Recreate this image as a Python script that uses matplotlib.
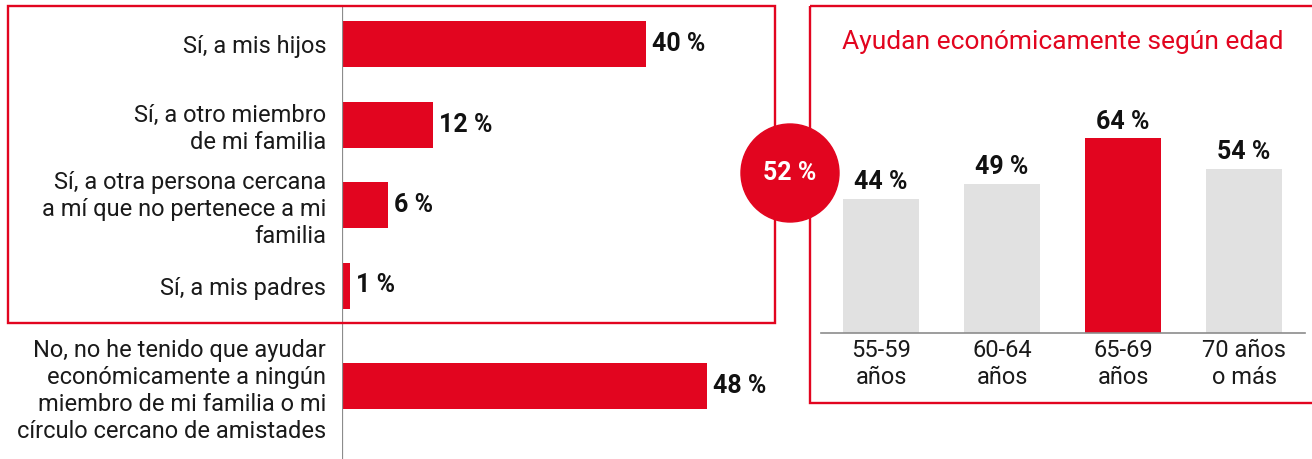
import matplotlib
matplotlib.use("Agg")
import matplotlib.pyplot as plt
from matplotlib.patches import Circle, Rectangle
import numpy as np

# Figure size in pixels (dpi 100)
W, H = 1312, 459

RED = "#E2051F"
GREY_BAR = "#E1E1E1"
AXIS_GREY = "#8C8C8C"

# Left panel: who they have helped financially
HELP_LABELS = [
    "Sí, a mis hijos",
    "Sí, a otro miembro\nde mi familia",
    "Sí, a otra persona cercana\na mí que no pertenece a mi\nfamilia",
    "Sí, a mis padres",
    "No, no he tenido que ayudar\neconómicamente a ningún\nmiembro de mi familia o mi\ncírculo cercano de amistades",
]
HELP_VALUES = [40, 12, 6, 1, 48]
TOTAL_HELP = 52

# Right panel: help by age group
AGE_LABELS = ["55-59\naños", "60-64\naños", "65-69\naños", "70 años\no más"]
AGE_VALUES = [44, 49, 64, 54]

# Row layout for the horizontal bars (the "No" row sits a bit apart)
ROW_POS = [0, 1, 2, 3, 4.25]
ROW_PX = 80.5          # pixels per row step
FIRST_ROW_PX = 44      # y of the first bar centre
BAR_PX_PER_UNIT = 7.6
COL_PX_PER_UNIT = 3.04

LABEL_SIZE = 17
VALUE_SIZE = 18
LINE_SPACING = 1.22

plt.rcParams["font.family"] = ["Roboto", "DejaVu Sans"]


def px_rect(x0, y0, x1, y1):
    return [x0 / W, 1 - y1 / H, (x1 - x0) / W, (y1 - y0) / H]


fig = plt.figure(figsize=(W / 100, H / 100), dpi=100)

# ---- left: horizontal bars ----
ax_l = fig.add_axes(px_rect(342, 0, 776, H))
ax_l.barh(ROW_POS, HELP_VALUES, height=46 / ROW_PX, color=RED)
ax_l.set_xlim(0, (776 - 342) / BAR_PX_PER_UNIT)
ax_l.set_ylim((H - FIRST_ROW_PX) / ROW_PX, -FIRST_ROW_PX / ROW_PX)
for s in ax_l.spines.values():
    s.set_visible(False)
ax_l.axvline(0, ymin=0, ymax=(H - 7) / H, color=AXIS_GREY, lw=1.6)
ax_l.set_xticks([])
ax_l.set_yticks(ROW_POS, HELP_LABELS, fontsize=LABEL_SIZE, color="#1a1a1a")
ax_l.tick_params(axis="y", length=0, pad=11.5)
for lbl in ax_l.get_yticklabels():
    lbl.set_linespacing(LINE_SPACING)
for pos, v in zip(ROW_POS, HELP_VALUES):
    ax_l.annotate(f"{v} %", xy=(v, pos), xytext=(4.5, 0), textcoords="offset points",
                  ha="left", va="center", fontsize=VALUE_SIZE, fontweight="bold",
                  color="#111111")

# ---- right: columns by age ----
ax_r = fig.add_axes(px_rect(820.5, 60, 1304.5, 333))
x = np.arange(len(AGE_VALUES))
colors = [RED if v == max(AGE_VALUES) else GREY_BAR for v in AGE_VALUES]
ax_r.bar(x, AGE_VALUES, width=76 / 121, color=colors)
ax_r.set_xlim(-0.5, 3.5)
ax_r.set_ylim(0, 273 / COL_PX_PER_UNIT)
for side in ["top", "left", "right"]:
    ax_r.spines[side].set_visible(False)
ax_r.spines["bottom"].set_color(AXIS_GREY)
ax_r.spines["bottom"].set_linewidth(1.2)
ax_r.set_yticks([])
ax_r.set_xticks(x, AGE_LABELS, fontsize=LABEL_SIZE, color="#1a1a1a")
ax_r.tick_params(axis="x", length=0, pad=4)
for lbl in ax_r.get_xticklabels():
    lbl.set_linespacing(LINE_SPACING)
for xi, v in zip(x, AGE_VALUES):
    ax_r.annotate(f"{v} %", xy=(xi, v), xytext=(0, 3.5), textcoords="offset points",
                  ha="center", va="bottom", fontsize=VALUE_SIZE, fontweight="bold",
                  color="#111111")

fig.text(1063 / W, 1 - 42 / H, "Ayudan económicamente según edad", ha="center",
         va="center", fontsize=19, color=RED)

# ---- frames and the total bubble ----
ov = fig.add_axes([0, 0, 1, 1], zorder=5)
ov.set_xlim(0, W)
ov.set_ylim(H, 0)
ov.axis("off")
ov.patch.set_alpha(0)
ov.add_patch(Rectangle((8, 6), 767, 317, fill=False, ec=RED, lw=1.7))
ov.add_patch(Rectangle((810, 6), 530, 397, fill=False, ec=RED, lw=1.7))
ov.add_patch(Circle((790, 173), 49, color=RED))
ov.text(790, 173, f"{TOTAL_HELP} %", ha="center", va="center", fontsize=VALUE_SIZE,
        fontweight="bold", color="white")

fig.savefig("out.png", dpi=100)
